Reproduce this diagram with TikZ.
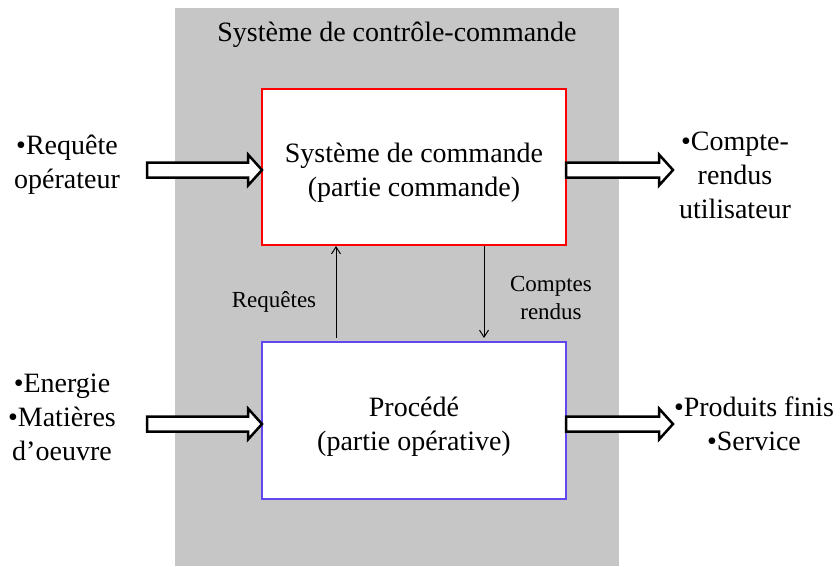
\documentclass[tikz,border=0pt]{standalone}
\usepackage{fontspec}
\setmainfont{Liberation Serif}
\usetikzlibrary{arrows.meta}
\definecolor{sysgray}{RGB}{198,198,198}
\definecolor{procblue}{RGB}{100,70,240}
\begin{document}
\begin{tikzpicture}[x=1pt,y=-1pt,
  big/.style={font=\fontsize{28}{34}\selectfont, align=center, inner sep=0pt},
  small/.style={font=\fontsize{23}{28}\selectfont, align=center, inner sep=0pt},
  box/.style={line width=2pt, fill=white, minimum width=304pt, inner sep=0pt},
  blockarrow/.style={draw=black, line width=2.5pt, fill=white, line join=miter},
  thin arrow/.style={line width=1pt, -{Straight Barb[length=7pt,width=9pt]}}]
\useasboundingbox (0,0) rectangle (840,566);
\fill[sysgray] (175,8) rectangle (619,566);
\node[big] (title) at (397,35) {Système de contrôle-commande};
\node[box, draw=red, minimum height=156pt] (cmd) at (414,167) {};
\node[big] (cmdtext) at ([yshift=-6pt]cmd.center) {Système de commande\\(partie commande)};
\node[box, draw=procblue, minimum height=157pt] (proc) at (414,420.5) {};
\node[big] (proctext) at ([yshift=-6pt]proc.center) {Procédé\\(partie opérative)};
% left / right texts
\node[big] (req) at (67,165) {•Requête\\opérateur};
\node[big] (cr) at (735,175) {•Compte-\\rendus\\utilisateur};
\node[big] (ener) at (62,417) {•Energie\\•Matières\\d’oeuvre};
\node[big] (prod) at (754,424) {•Produits finis\\•Service};
% block arrows
\newcommand{\blockarr}[3]{\draw[blockarrow] (#1,#3-7.5) -- (#2-14,#3-7.5) -- (#2-14,#3-15.5) -- (#2,#3) -- (#2-14,#3+15.5) -- (#2-14,#3+7.5) -- (#1,#3+7.5) -- cycle;}
\blockarr{147}{262}{170}
\blockarr{566}{673}{170}
\blockarr{147}{262}{424}
\blockarr{566}{673}{424}
% thin arrows
\coordinate (upfrom) at (336,338);
\coordinate (downto) at (484,338);
\draw[thin arrow] (upfrom) -- (upfrom |- cmd.south);
\draw[thin arrow] (downto |- cmd.south) -- (downto);
\node[small] (requetes) at (274,302) {Requêtes};
\node[small] (comptes) at (551,298) {Comptes\\rendus};
\end{tikzpicture}
\end{document}
